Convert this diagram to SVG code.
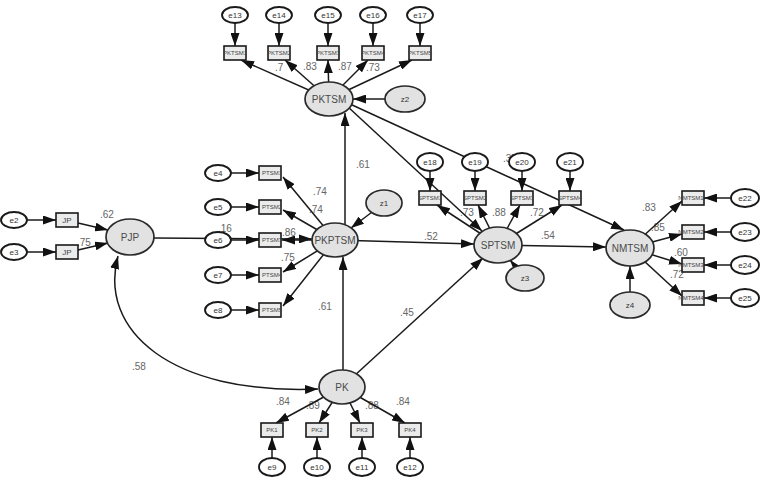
<svg xmlns="http://www.w3.org/2000/svg" width="762" height="481" viewBox="0 0 762 481">
  <defs>
    <marker id="arr" viewBox="0 0 13 9" refX="13" refY="4.5" markerWidth="13" markerHeight="9" markerUnits="userSpaceOnUse" orient="auto-start-reverse">
      <path d="M0,0 L13,4.5 L0,9 z" fill="#111"/>
    </marker>
  </defs>
  <style>
    .lat { fill: #e2e2e2; stroke: #2a2a2a; stroke-width: 1.7; }
    .err { fill: #ffffff; stroke: #1a1a1a; stroke-width: 1.9; }
    .box { fill: #ebebeb; stroke: #1a1a1a; stroke-width: 1.6; }
    .ln { stroke: #1a1a1a; stroke-width: 1.5; fill: none; marker-end: url(#arr); }
    .both { marker-start: url(#arr); }
    text { font-family: "Liberation Sans", Arial, sans-serif; fill: #555; }
    .tl { font-size: 10px; text-anchor: middle; dominant-baseline: central; fill: #4a4a4a; }
    .te { font-size: 8px; text-anchor: middle; dominant-baseline: central; fill: #333; }
    .tb { font-size: 6px; text-anchor: middle; dominant-baseline: central; fill: #444; }
    .tw { font-size: 10px; fill: #666; }
  </style>
  <rect width="762" height="481" fill="#ffffff"/>

  <!-- path coefficients and loadings -->
  <g id="labels">
    <text class="tw" x="275" y="71">.7</text>
    <text class="tw" x="303" y="70">.83</text>
    <text class="tw" x="338" y="70">.87</text>
    <text class="tw" x="366" y="71">.73</text>
    <text class="tw" x="503" y="162">.37</text>
    <text class="tw" x="460" y="216">.73</text>
    <text class="tw" x="492" y="216">.88</text>
    <text class="tw" x="530" y="216">.72</text>
    <text class="tw" x="356" y="168">.61</text>
    <text class="tw" x="313" y="195">.74</text>
    <text class="tw" x="309" y="213">.74</text>
    <text class="tw" x="218" y="232">.16</text>
    <text class="tw" x="282" y="236">.86</text>
    <text class="tw" x="281" y="261">.75</text>
    <text class="tw" x="318" y="310">.61</text>
    <text class="tw" x="424" y="240">.52</text>
    <text class="tw" x="541" y="239">.54</text>
    <text class="tw" x="400" y="316">.45</text>
    <text class="tw" x="132" y="370">.58</text>
    <text class="tw" x="100" y="218">.62</text>
    <text class="tw" x="77" y="246">.75</text>
    <text class="tw" x="276" y="405">.84</text>
    <text class="tw" x="306" y="409">.89</text>
    <text class="tw" x="365" y="409">.88</text>
    <text class="tw" x="396" y="405">.84</text>
    <text class="tw" x="642" y="211">.83</text>
    <text class="tw" x="651" y="231">.85</text>
    <text class="tw" x="674" y="256">.60</text>
    <text class="tw" x="670" y="278">.72</text>
  </g>

  <g id="connectors">
    <!-- PKTSM block -->
    <line class="ln" x1="235" y1="23" x2="235" y2="46"/>
    <line class="ln" x1="279" y1="23" x2="279" y2="46"/>
    <line class="ln" x1="328" y1="23" x2="328" y2="46"/>
    <line class="ln" x1="373" y1="23" x2="373" y2="46"/>
    <line class="ln" x1="420" y1="23" x2="420" y2="46"/>
    <line class="ln" x1="329" y1="99" x2="241" y2="60"/>
    <line class="ln" x1="329" y1="99" x2="285" y2="60"/>
    <line class="ln" x1="329" y1="99" x2="328" y2="60"/>
    <line class="ln" x1="329" y1="99" x2="368" y2="60"/>
    <line class="ln" x1="329" y1="99" x2="412" y2="60"/>
    <line class="ln" x1="385" y1="99" x2="353" y2="99"/>
    <line class="ln" x1="345" y1="225" x2="345" y2="113"/>
    <line class="ln" x1="347" y1="106" x2="482" y2="231"/>
    <line class="ln" x1="350" y1="104" x2="624" y2="230"/>

    <!-- PKPTSM block -->
    <line class="ln" x1="384" y1="203" x2="351" y2="228"/>
    <line class="ln" x1="154" y1="238" x2="312" y2="239"/>
    <line class="ln" x1="335" y1="240" x2="283" y2="177"/>
    <line class="ln" x1="335" y1="240" x2="283" y2="210"/>
    <line class="ln" x1="335" y1="240" x2="282" y2="240"/>
    <line class="ln" x1="335" y1="240" x2="283" y2="272"/>
    <line class="ln" x1="335" y1="240" x2="283" y2="306"/>
    <line class="ln" x1="231" y1="173" x2="259" y2="173"/>
    <line class="ln" x1="231" y1="207" x2="259" y2="207"/>
    <line class="ln" x1="231" y1="240" x2="259" y2="240"/>
    <line class="ln" x1="231" y1="275" x2="259" y2="275"/>
    <line class="ln" x1="231" y1="310" x2="259" y2="310"/>
    <line class="ln" x1="343" y1="370" x2="343" y2="257"/>
    <line class="ln" x1="335" y1="240" x2="474" y2="244"/>

    <!-- SPTSM block -->
    <line class="ln" x1="342" y1="387" x2="483" y2="258"/>
    <line class="ln" x1="498" y1="245" x2="606" y2="247"/>
    <line class="ln" x1="525" y1="278" x2="510" y2="260"/>
    <line class="ln" x1="430" y1="171" x2="430" y2="191"/>
    <line class="ln" x1="475" y1="171" x2="475" y2="191"/>
    <line class="ln" x1="522" y1="171" x2="522" y2="191"/>
    <line class="ln" x1="570" y1="171" x2="570" y2="191"/>
    <line class="ln" x1="498" y1="245" x2="437" y2="205"/>
    <line class="ln" x1="498" y1="245" x2="478" y2="205"/>
    <line class="ln" x1="498" y1="245" x2="520" y2="205"/>
    <line class="ln" x1="498" y1="245" x2="562" y2="205"/>

    <!-- NMTSM block -->
    <line class="ln" x1="630" y1="248" x2="682" y2="201"/>
    <line class="ln" x1="630" y1="248" x2="682" y2="234"/>
    <line class="ln" x1="630" y1="248" x2="682" y2="264"/>
    <line class="ln" x1="630" y1="248" x2="682" y2="296"/>
    <line class="ln" x1="731" y1="198" x2="704" y2="198"/>
    <line class="ln" x1="731" y1="232" x2="704" y2="232"/>
    <line class="ln" x1="731" y1="265" x2="704" y2="265"/>
    <line class="ln" x1="731" y1="298" x2="704" y2="298"/>
    <line class="ln" x1="630" y1="292" x2="630" y2="266"/>

    <!-- PK block -->
    <line class="ln" x1="342" y1="387" x2="276" y2="423"/>
    <line class="ln" x1="342" y1="387" x2="319" y2="423"/>
    <line class="ln" x1="342" y1="387" x2="360" y2="423"/>
    <line class="ln" x1="342" y1="387" x2="405" y2="423"/>
    <line class="ln" x1="272" y1="458" x2="272" y2="437"/>
    <line class="ln" x1="317" y1="458" x2="317" y2="437"/>
    <line class="ln" x1="362" y1="458" x2="362" y2="437"/>
    <line class="ln" x1="410" y1="458" x2="410" y2="437"/>

    <!-- PJP block -->
    <line class="ln" x1="27" y1="220" x2="56" y2="220"/>
    <line class="ln" x1="27" y1="252" x2="56" y2="252"/>
    <line class="ln" x1="78" y1="223" x2="108" y2="230"/>
    <line class="ln" x1="78" y1="250" x2="108" y2="243"/>

    <!-- covariance PJP <-> PK -->
    <path class="ln both" d="M118,256 C98,330 170,395 318,389"/>
  </g>

  <!-- latent variables -->
  <g id="PKTSM"><ellipse class="lat" cx="329" cy="99" rx="24" ry="17"/><text class="tl" x="329" y="99">PKTSM</text></g>
  <g id="PKPTSM"><ellipse class="lat" cx="335" cy="240" rx="23" ry="17"/><text class="tl" x="335" y="240">PKPTSM</text></g>
  <g id="SPTSM"><ellipse class="lat" cx="498" cy="245" rx="24" ry="18"/><text class="tl" x="498" y="245">SPTSM</text></g>
  <g id="NMTSM"><ellipse class="lat" cx="630" cy="248" rx="24" ry="18"/><text class="tl" x="630" y="248">NMTSM</text></g>
  <g id="PJP"><ellipse class="lat" cx="130" cy="237" rx="24" ry="18"/><text class="tl" x="130" y="237">PJP</text></g>
  <g id="PK"><ellipse class="lat" cx="342" cy="387" rx="23" ry="17"/><text class="tl" x="342" y="387">PK</text></g>

  <!-- disturbances -->
  <g id="z1"><ellipse class="lat" cx="384" cy="203" rx="18" ry="13"/><text class="te" x="384" y="203">z1</text></g>
  <g id="z2"><ellipse class="lat" cx="405" cy="99" rx="20" ry="13"/><text class="te" x="405" y="99">z2</text></g>
  <g id="z3"><ellipse class="lat" cx="525" cy="278" rx="19" ry="13"/><text class="te" x="525" y="278">z3</text></g>
  <g id="z4"><ellipse class="lat" cx="630" cy="305" rx="20" ry="13"/><text class="te" x="630" y="305">z4</text></g>

  <!-- PKTSM indicators -->
  <g id="PKTSM1"><rect class="box" x="224" y="46" width="22" height="14"/><text class="tb" x="235" y="53">PKTSM1</text></g>
  <g id="PKTSM2"><rect class="box" x="268" y="46" width="22" height="14"/><text class="tb" x="279" y="53">PKTSM2</text></g>
  <g id="PKTSM3"><rect class="box" x="317" y="46" width="22" height="14"/><text class="tb" x="328" y="53">PKTSM3</text></g>
  <g id="PKTSM4"><rect class="box" x="362" y="46" width="22" height="14"/><text class="tb" x="373" y="53">PKTSM4</text></g>
  <g id="PKTSM5"><rect class="box" x="409" y="46" width="22" height="14"/><text class="tb" x="420" y="53">PKTSM5</text></g>
  <g id="e13"><ellipse class="err" cx="235" cy="15" rx="13" ry="8"/><text class="te" x="235" y="15">e13</text></g>
  <g id="e14"><ellipse class="err" cx="279" cy="15" rx="13" ry="8"/><text class="te" x="279" y="15">e14</text></g>
  <g id="e15"><ellipse class="err" cx="328" cy="15" rx="13" ry="8"/><text class="te" x="328" y="15">e15</text></g>
  <g id="e16"><ellipse class="err" cx="373" cy="15" rx="13" ry="8"/><text class="te" x="373" y="15">e16</text></g>
  <g id="e17"><ellipse class="err" cx="420" cy="15" rx="13" ry="8"/><text class="te" x="420" y="15">e17</text></g>

  <!-- PKPTSM indicators -->
  <g id="PTS1"><rect class="box" x="259" y="166" width="22" height="14"/><text class="tb" x="272" y="173">PTSM1</text></g>
  <g id="PTS2"><rect class="box" x="259" y="200" width="22" height="14"/><text class="tb" x="272" y="207">PTSM2</text></g>
  <g id="PTS3"><rect class="box" x="259" y="233" width="22" height="14"/><text class="tb" x="272" y="240">PTSM3</text></g>
  <g id="PTS4"><rect class="box" x="259" y="268" width="22" height="14"/><text class="tb" x="272" y="275">PTSM4</text></g>
  <g id="PTS5"><rect class="box" x="259" y="303" width="22" height="14"/><text class="tb" x="272" y="310">PTSM5</text></g>
  <g id="e4"><ellipse class="err" cx="218" cy="173" rx="13" ry="8"/><text class="te" x="218" y="173">e4</text></g>
  <g id="e5"><ellipse class="err" cx="218" cy="207" rx="13" ry="8"/><text class="te" x="218" y="207">e5</text></g>
  <g id="e6"><ellipse class="err" cx="218" cy="240" rx="13" ry="8"/><text class="te" x="218" y="240">e6</text></g>
  <g id="e7"><ellipse class="err" cx="218" cy="275" rx="13" ry="8"/><text class="te" x="218" y="275">e7</text></g>
  <g id="e8"><ellipse class="err" cx="218" cy="310" rx="13" ry="8"/><text class="te" x="218" y="310">e8</text></g>

  <!-- SPTSM indicators -->
  <g id="SPTSM1"><rect class="box" x="419" y="191" width="22" height="14"/><text class="tb" x="430" y="198">SPTSM1</text></g>
  <g id="SPTSM2"><rect class="box" x="464" y="191" width="22" height="14"/><text class="tb" x="475" y="198">SPTSM2</text></g>
  <g id="SPTSM3"><rect class="box" x="511" y="191" width="22" height="14"/><text class="tb" x="522" y="198">SPTSM3</text></g>
  <g id="SPTSM4"><rect class="box" x="559" y="191" width="22" height="14"/><text class="tb" x="570" y="198">SPTSM4</text></g>
  <g id="e18"><ellipse class="err" cx="430" cy="162" rx="13" ry="9"/><text class="te" x="430" y="162">e18</text></g>
  <g id="e19"><ellipse class="err" cx="475" cy="162" rx="13" ry="9"/><text class="te" x="475" y="162">e19</text></g>
  <g id="e20"><ellipse class="err" cx="522" cy="162" rx="13" ry="9"/><text class="te" x="522" y="162">e20</text></g>
  <g id="e21"><ellipse class="err" cx="570" cy="162" rx="13" ry="9"/><text class="te" x="570" y="162">e21</text></g>

  <!-- NMTSM indicators -->
  <g id="NMTSM1"><rect class="box" x="682" y="191" width="22" height="14"/><text class="tb" x="691" y="198">NMTSM1</text></g>
  <g id="NMTSM2"><rect class="box" x="682" y="225" width="22" height="14"/><text class="tb" x="691" y="232">NMTSM2</text></g>
  <g id="NMTSM3"><rect class="box" x="682" y="258" width="22" height="14"/><text class="tb" x="691" y="265">NMTSM3</text></g>
  <g id="NMTSM4"><rect class="box" x="682" y="291" width="22" height="14"/><text class="tb" x="691" y="298">NMTSM4</text></g>
  <g id="e22"><ellipse class="err" cx="745" cy="198" rx="14" ry="9"/><text class="te" x="745" y="198">e22</text></g>
  <g id="e23"><ellipse class="err" cx="745" cy="232" rx="14" ry="9"/><text class="te" x="745" y="232">e23</text></g>
  <g id="e24"><ellipse class="err" cx="745" cy="265" rx="14" ry="9"/><text class="te" x="745" y="265">e24</text></g>
  <g id="e25"><ellipse class="err" cx="745" cy="298" rx="14" ry="9"/><text class="te" x="745" y="298">e25</text></g>

  <!-- PK indicators -->
  <g id="PK1"><rect class="box" x="261" y="423" width="22" height="14"/><text class="tb" x="272" y="430">PK1</text></g>
  <g id="PK2"><rect class="box" x="306" y="423" width="22" height="14"/><text class="tb" x="317" y="430">PK2</text></g>
  <g id="PK3"><rect class="box" x="351" y="423" width="22" height="14"/><text class="tb" x="362" y="430">PK3</text></g>
  <g id="PK4"><rect class="box" x="399" y="423" width="22" height="14"/><text class="tb" x="410" y="430">PK4</text></g>
  <g id="e9"><ellipse class="err" cx="272" cy="467" rx="13" ry="9"/><text class="te" x="272" y="467">e9</text></g>
  <g id="e10"><ellipse class="err" cx="317" cy="467" rx="13" ry="9"/><text class="te" x="317" y="467">e10</text></g>
  <g id="e11"><ellipse class="err" cx="362" cy="467" rx="13" ry="9"/><text class="te" x="362" y="467">e11</text></g>
  <g id="e12"><ellipse class="err" cx="410" cy="467" rx="13" ry="9"/><text class="te" x="410" y="467">e12</text></g>

  <!-- PJP indicators -->
  <g id="JP1"><rect class="box" x="56" y="213" width="22" height="14"/><text class="tb" x="67" y="220" style="font-size:8px">JP</text></g>
  <g id="JP2"><rect class="box" x="56" y="245" width="22" height="14"/><text class="tb" x="67" y="252" style="font-size:8px">JP</text></g>
  <g id="e2"><ellipse class="err" cx="14" cy="220" rx="13" ry="8"/><text class="te" x="14" y="220">e2</text></g>
  <g id="e3"><ellipse class="err" cx="14" cy="252" rx="13" ry="8"/><text class="te" x="14" y="252">e3</text></g>
</svg>
